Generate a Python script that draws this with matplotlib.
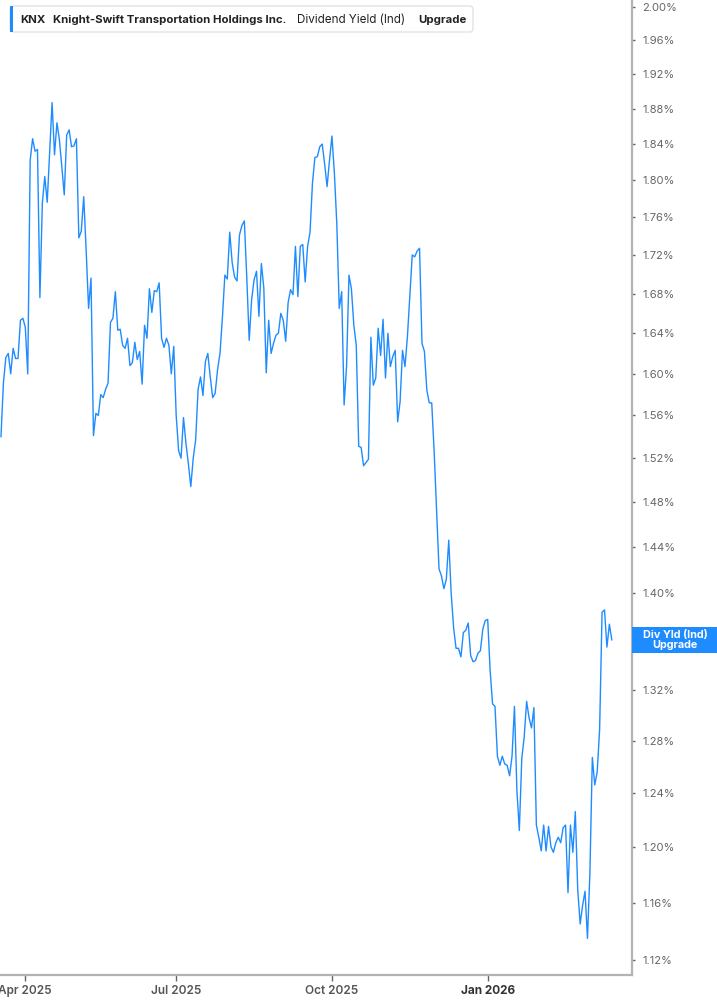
import numpy as np
import pandas as pd
import matplotlib
matplotlib.use("Agg")
from matplotlib import pyplot as plt
from matplotlib.patches import FancyBboxPatch, Rectangle
from matplotlib.ticker import FixedLocator, FuncFormatter, NullLocator

plt.rcParams['font.family'] = ['Inter', 'DejaVu Sans']

# KNX dividend yield (ind), one value per trading session, from 2025-03-18
start_date = "2025-03-18"
end_date = "2026-03-18"
market_holidays = ["2025-04-18", "2025-05-26", "2025-06-19", "2025-07-04",
                   "2025-09-01", "2025-11-27", "2025-12-25", "2026-01-01",
                   "2026-01-19", "2026-02-16"]

div_yield = [
    1.540, 1.591, 1.616, 1.620, 1.600, 1.625, 1.615, 1.615, 1.653, 1.655,
    1.646, 1.600, 1.822, 1.846, 1.832, 1.834, 1.676, 1.775, 1.804, 1.776,
    1.830, 1.887, 1.828, 1.864, 1.845, 1.815, 1.784, 1.850, 1.856, 1.837,
    1.838, 1.846, 1.738, 1.745, 1.782, 1.725, 1.665, 1.696, 1.541, 1.562,
    1.560, 1.580, 1.577, 1.585, 1.591, 1.651, 1.655, 1.682, 1.643, 1.644,
    1.628, 1.625, 1.635, 1.608, 1.611, 1.631, 1.614, 1.622, 1.590, 1.648,
    1.635, 1.685, 1.661, 1.683, 1.682, 1.691, 1.635, 1.626, 1.635, 1.628,
    1.600, 1.627, 1.560, 1.527, 1.520, 1.558, 1.534, 1.515, 1.494, 1.520,
    1.537, 1.585, 1.597, 1.579, 1.612, 1.620, 1.597, 1.577, 1.581, 1.604,
    1.620, 1.656, 1.699, 1.695, 1.744, 1.712, 1.697, 1.693, 1.741, 1.751,
    1.756, 1.697, 1.633, 1.674, 1.694, 1.703, 1.657, 1.711, 1.686, 1.601,
    1.653, 1.620, 1.630, 1.638, 1.640, 1.660, 1.653, 1.632, 1.671, 1.684,
    1.679, 1.729, 1.677, 1.729, 1.731, 1.692, 1.729, 1.744, 1.797, 1.825,
    1.826, 1.837, 1.840, 1.818, 1.793, 1.822, 1.849, 1.808, 1.753, 1.665,
    1.682, 1.570, 1.607, 1.699, 1.685, 1.648, 1.628, 1.531, 1.530, 1.513,
    1.516, 1.519, 1.636, 1.589, 1.596, 1.645, 1.618, 1.654, 1.596, 1.640,
    1.607, 1.617, 1.623, 1.554, 1.573, 1.623, 1.607, 1.636, 1.677, 1.720,
    1.718, 1.724, 1.727, 1.630, 1.622, 1.584, 1.572, 1.572, 1.526, 1.473,
    1.421, 1.415, 1.404, 1.412, 1.446, 1.400, 1.371, 1.354, 1.354, 1.347,
    1.367, 1.369, 1.375, 1.348, 1.343, 1.344, 1.350, 1.352, 1.370, 1.377,
    1.378, 1.336, 1.309, 1.307, 1.268, 1.261, 1.268, 1.262, 1.261, 1.253,
    1.268, 1.307, 1.242, 1.212, 1.266, 1.283, 1.311, 1.298, 1.290, 1.306,
    1.216, 1.207, 1.197, 1.216, 1.197, 1.215, 1.200, 1.196, 1.203, 1.207,
    1.203, 1.214, 1.216, 1.167, 1.216, 1.196, 1.226, 1.169, 1.145, 1.158,
    1.168, 1.135, 1.181, 1.267, 1.246, 1.256, 1.289, 1.384, 1.386, 1.355,
    1.374, 1.361,
]

tick_months = ["2025-04-01", "2025-07-01", "2025-10-01", "2026-01-01"]
y_ticks = [1.12, 1.16, 1.20, 1.24, 1.28, 1.32, 1.36, 1.40, 1.44, 1.48, 1.52,
           1.56, 1.60, 1.64, 1.68, 1.72, 1.76, 1.80, 1.84, 1.88, 1.92, 1.96, 2.00]

series_name = "Div Yld (Ind)\nUpgrade"
header = [("KNX", "bold", 20), ("Knight-Swift Transportation Holdings Inc.", "bold", 53),
          ("Dividend Yield (Ind)", "normal", 297), ("Upgrade", "bold", 418)]

BLUE = "#1e8cff"
W, H = 717, 1005


def fx(px):
    return px / W


def fy(py):
    return 1 - py / H


sessions = pd.bdate_range(start_date, end_date, freq="C", holidays=market_holidays)
sessions = sessions[:len(div_yield)]
idx = np.arange(len(div_yield))

fig = plt.figure(figsize=(W / 100, H / 100), dpi=100)
ax = fig.add_axes([0, fy(975), fx(632), 975 / H])

ax.plot(idx, div_yield, color=BLUE, lw=1.0)
ax.set_yscale("log")
ax.set_ylim(1.110, 2.0085)
ax.set_xlim(-0.4, 259.3)

# y axis on the right
ax.yaxis.tick_right()
ax.yaxis.set_major_locator(FixedLocator(y_ticks))
ax.yaxis.set_minor_locator(NullLocator())
ax.yaxis.set_major_formatter(FuncFormatter(lambda v, p: "%.2f%%" % v))
ax.tick_params(axis="y", direction="out", length=2.5, width=1, color="#666666",
               labelsize=8, labelcolor="#666666", pad=5)

# x ticks at first session of each quarter
xt = [sessions.searchsorted(pd.Timestamp(m)) for m in tick_months]
ax.set_xticks(xt)
ax.set_xticklabels([pd.Timestamp(m).strftime("%b %Y") for m in tick_months])
ax.tick_params(axis="x", direction="out", length=4, width=1, color="#666666",
               labelsize=8.5, labelcolor="#555555", pad=3)
for lab in ax.get_xticklabels():
    lab.set_fontweight("semibold")
    if lab.get_text().startswith("Jan"):
        lab.set_fontweight("bold")
        lab.set_color("#333333")

for s in ["top", "left"]:
    ax.spines[s].set_visible(False)
for s in ["right", "bottom"]:
    ax.spines[s].set_color("#b3b3b3")
    ax.spines[s].set_linewidth(1.6)

# last value label on the axis, hides the tick label underneath it
fig.canvas.draw()
ly = ax.transData.transform((0, div_yield[-1]))[1] / fig.bbox.height
box_h = 26 / H
fig.patches.append(Rectangle((fx(632), ly - box_h / 2), fx(717) - fx(632), box_h,
                             transform=fig.transFigure, fc=BLUE, ec="none", zorder=5))
fig.text(fx(675), ly, series_name, ha="center", va="center", color="white",
         fontsize=7.8, fontweight="bold", linespacing=1.0, zorder=6)
for v, lab in zip(y_ticks, ax.get_yticklabels()):
    ty = ax.transData.transform((0, v))[1] / fig.bbox.height
    if abs(ty - ly) < box_h / 2:
        lab.set_visible(False)

# header box
fig.patches.append(FancyBboxPatch((fx(10), fy(32)), fx(473) - fx(10), 26 / H,
                                  boxstyle="round,pad=0,rounding_size=0.004",
                                  transform=fig.transFigure, fc="white",
                                  ec="#e3e3e3", lw=1))
fig.patches.append(Rectangle((fx(10), fy(32)), fx(3), 26 / H,
                             transform=fig.transFigure, fc=BLUE, ec="none"))
for txt, wt, px in header:
    fig.text(fx(px), fy(20), txt, fontsize=8.2 if wt == "bold" else 8.4,
             fontweight=wt, color="#222222", va="center", ha="left")

fig.savefig("out.png", dpi=100)
